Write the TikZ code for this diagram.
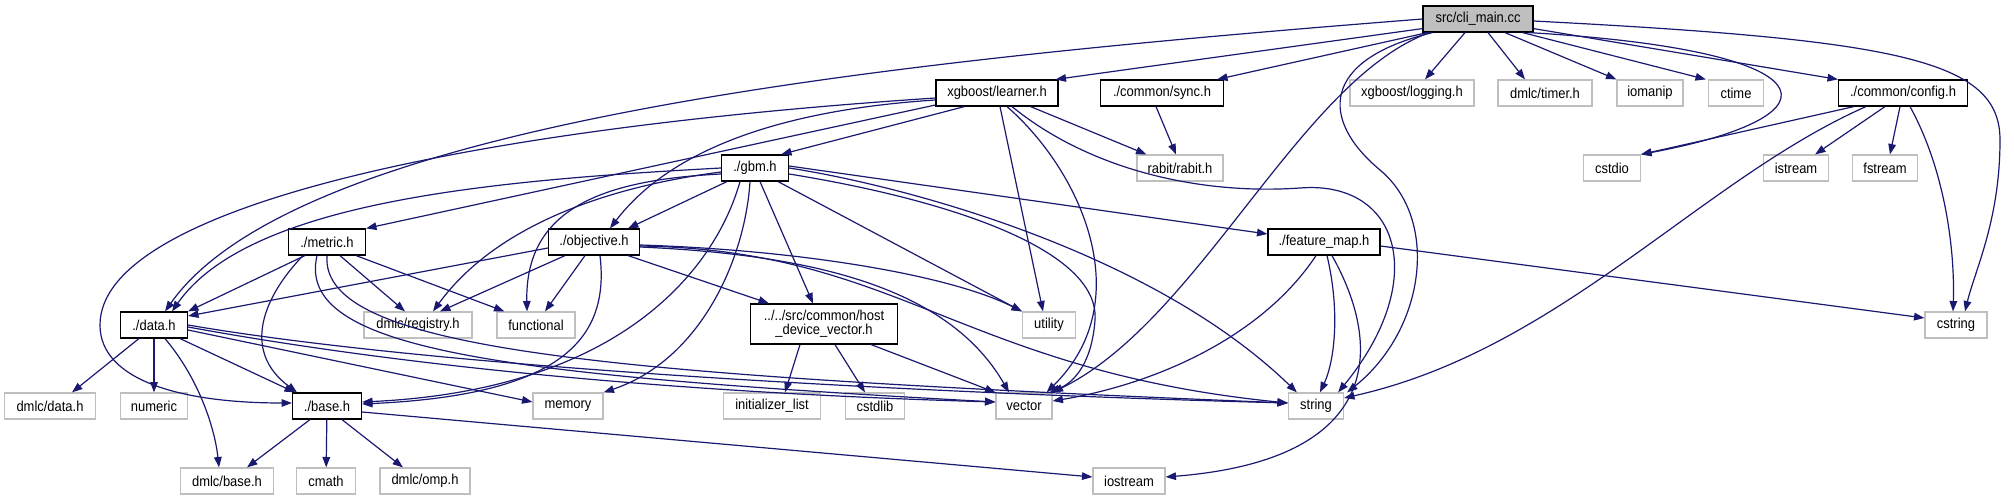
\documentclass[tikz,border=0pt]{standalone}
\usepackage{fontspec}
\setmainfont{Liberation Sans}[FakeStretch=0.9]
\usepackage{xcolor}
\usepackage{tikz}
\usetikzlibrary{arrows.meta, calc}

\definecolor{edgeblue}{HTML}{191970}
\definecolor{boxgray}{HTML}{BFBFBF}

\begin{document}
\begin{tikzpicture}[
  x=0.5pt, y=0.5pt,
  font=\fontsize{7.2pt}{7pt}\selectfont,
  >={Triangle[length=5.2pt, width=3.8pt]},
  hdr/.style={
    draw=black, line width=0.6pt, fill=white,
    inner sep=0pt, minimum height=13pt, align=center
  },
  sys/.style={
    draw=boxgray, line width=0.6pt, fill=white,
    inner sep=0pt, minimum height=13pt
  },
  dep/.style={->, color=edgeblue, line width=0.6pt}
]
\useasboundingbox (0,0) rectangle (2014,500);

% rank 0
\node[hdr, fill=boxgray, minimum width=55pt] (cli) at (1478,481) {src/cli\_main.cc};

% rank 1
\node[hdr, minimum width=61pt]   (learner) at (997,407)  {xgboost/learner.h};
\node[hdr, minimum width=61.5pt] (sync)    at (1162,407) {./common/sync.h};
\node[sys, minimum width=62pt]   (logging) at (1412,407) {xgboost/logging.h};
\node[sys, minimum width=47pt]   (timer)   at (1545,407) {dmlc/timer.h};
\node[sys, minimum width=33pt]   (iomanip) at (1650,407) {iomanip};
\node[sys, minimum width=27.5pt] (ctime)   at (1736,407) {ctime};
\node[hdr, minimum width=64.5pt] (config)  at (1903,407) {./common/config.h};

% rank 2
\node[hdr, minimum width=33.5pt] (gbm)     at (755,332)  {./gbm.h};
\node[sys, minimum width=43pt]   (rabit)   at (1180,332) {rabit/rabit.h};
\node[sys, minimum width=28.5pt] (cstdio)  at (1612,332) {cstdio};
\node[sys, minimum width=32.5pt] (istream) at (1796,332) {istream};
\node[sys, minimum width=32.5pt] (fstream) at (1885,332) {fstream};

% rank 3
\node[hdr, minimum width=38.5pt] (metric)    at (327,258)  {./metric.h};
\node[hdr, minimum width=45.5pt] (objective) at (594,258)  {./objective.h};
\node[hdr, minimum width=56pt]   (featmap)   at (1324,258) {./feature\_map.h};

% rank 4
\node[hdr, minimum width=33.5pt] (data)       at (154,175)  {./data.h};
\node[sys, minimum width=54pt]   (registry)   at (418,175)  {dmlc/registry.h};
\node[sys, minimum width=39pt]   (functional) at (536,175)  {functional};
\node[hdr, minimum width=73.5pt, minimum height=20pt] (hostdev) at (824,176)
  {../../src/common/host\\\_device\_vector.h};
\node[sys, minimum width=26.5pt] (utility)    at (1049,175) {utility};
\node[sys, minimum width=31pt]   (cstring)    at (1956,175) {cstring};

% rank 5
\node[sys, minimum width=45.5pt] (dmlcdata) at (50,94)   {dmlc/data.h};
\node[sys, minimum width=33.5pt] (numeric)  at (154,94)  {numeric};
\node[hdr, minimum width=34.5pt] (base)     at (327,94)  {./base.h};
\node[sys, minimum width=35pt]   (memory)   at (568,94)  {memory};
\node[sys, minimum width=48.5pt] (initlist) at (772,94)  {initializer\_list};
\node[sys, minimum width=29.5pt] (cstdlib)  at (875,94)  {cstdlib};
\node[sys, minimum width=28pt]   (vector)   at (1024,94) {vector};
\node[sys, minimum width=27.5pt] (string)   at (1316,94) {string};

% rank 6
\node[sys, minimum width=46.5pt] (dmlcbase) at (227,19)  {dmlc/base.h};
\node[sys, minimum width=29.5pt] (cmath)    at (326,19)  {cmath};
\node[sys, minimum width=45pt]   (omp)      at (425,19)  {dmlc/omp.h};
\node[sys, minimum width=36pt]   (iostream) at (1129,19) {iostream};

% src/cli_main.cc
\draw[dep] ($(cli.south west)+(0,4)$) -- ($(learner.north east)+(-3,0)$);
\draw[dep] ($(cli.south west)+(5,0)$) -- ($(sync.north east)+(-7,0)$);
\draw[dep] ($(cli.south)+(-13,0)$) -- ($(logging.north)+(13,0)$);
\draw[dep] ($(cli.south)+(10,0)$) -- ($(timer.north)+(-20,0)$);
\draw[dep] ($(cli.south)+(27,0)$) -- (iomanip.north west);
\draw[dep] ($(cli.south east)+(-11,0)$) -- ($(ctime.north west)+(-2,0)$);
\draw[dep] ($(cli.south east)+(0,4)$) -- (config.north west);
\draw[dep] ($(cli.south east)+(-5,0)$) .. controls (1830,450) and (1850,385) .. (cstdio.north east);
\draw[dep] ($(cli.east)+(0,-2)$) .. controls (1900,460) and (2000,440) .. (2000,360)
  .. controls (2000,280) and (1975,230) .. ($(cstring.north)+(9,0)$);
\draw[dep] ($(cli.south west)+(7,0)$) .. controls (1300,420) and (1200,180) .. (vector.north east);
\draw[dep] ($(cli.south west)+(10,0)$) .. controls (1320,440) and (1320,380) .. (1380,330)
  .. controls (1440,280) and (1425,170) .. ($(string.north east)+(3,0)$);
\draw[dep] (cli.west) .. controls (900,440) and (300,380) .. ($(data.north)+(11,0)$);

% xgboost/learner.h
\draw[dep] ($(learner.south west)+(29,0)$) -- ($(gbm.north east)+(-8,0)$);
\draw[dep] ($(learner.south east)+(-28,0)$) -- ($(rabit.north west)+(10,0)$);
\draw[dep] ($(learner.south)+(3,0)$) -- ($(utility.north)+(-6,0)$);
\draw[dep] ($(learner.south)+(10,0)$) .. controls (1080,330) and (1140,200) .. ($(vector.north east)+(-6,0)$);
\draw[dep] ($(learner.south)+(15,0)$) .. controls (1090,330) and (1200,305) .. (1300,312)
  .. controls (1400,320) and (1430,220) .. ($(string.north east)+(-6,0)$);
\draw[dep] ($(learner.west)+(0,-12)$) -- (metric.north east);
\draw[dep] ($(learner.west)+(0,-7)$) .. controls (780,390) and (670,350) .. ($(objective.north)+(16,0)$);
\draw[dep] ($(learner.west)+(0,-5)$) .. controls (450,370) and (100,290) .. (100,175)
  .. controls (100,120) and (180,97) .. ($(base.west)+(0,3)$);

% ./gbm.h
\draw[dep] (gbm.west) .. controls (500,320) and (250,300) .. ($(data.north)+(18,0)$);
\draw[dep] ($(gbm.south west)+(6,0)$) -- ($(objective.north)+(34,0)$);
\draw[dep] ($(gbm.west)+(0,-4)$) .. controls (620,315) and (500,280) .. ($(registry.north)+(15,0)$);
\draw[dep] ($(gbm.west)+(0,-6)$) .. controls (600,320) and (525,290) .. ($(functional.north)+(-9,0)$);
\draw[dep] ($(gbm.south)+(-15,0)$) .. controls (715,230) and (620,110) .. ($(base.east)+(0,4)$);
\draw[dep] ($(gbm.south)+(-5,0)$) .. controls (745,240) and (700,140) .. (memory.north east);
\draw[dep] ($(gbm.south)+(5,0)$) -- ($(hostdev.north)+(-11,0)$);
\draw[dep] ($(gbm.south east)+(-11,0)$) -- (utility.north west);
\draw[dep] ($(gbm.east)+(0,-6)$) .. controls (950,300) and (1100,250) .. (1095,180)
  .. controls (1092,138) and (1075,118) .. ($(vector.north east)+(-3,0)$);
\draw[dep] (gbm.east) .. controls (900,315) and (1150,250) .. ($(string.north west)+(9,0)$);
\draw[dep] ($(gbm.east)+(0,2)$) -- ($(featmap.west)+(0,8)$);

% ./metric.h
\draw[dep] ($(metric.south west)+(17,0)$) -- (data.north east);
\draw[dep] ($(metric.south)+(-24,0)$) .. controls (265,205) and (240,150) .. ($(base.north)+(-30,0)$);
\draw[dep] ($(metric.south)+(-10,0)$) .. controls (295,150) and (500,125) .. ($(vector.west)+(0,4)$);
\draw[dep] (metric.south) .. controls (320,150) and (600,125) .. ($(string.west)+(0,3)$);
\draw[dep] ($(metric.south)+(13,0)$) -- ($(registry.north)+(-13,0)$);
\draw[dep] ($(metric.south east)+(-10,0)$) -- ($(functional.north west)+(8,0)$);

% ./objective.h
\draw[dep] ($(objective.west)+(0,-6)$) -- ($(data.east)+(0,9)$);
\draw[dep] ($(objective.south)+(-29,0)$) -- ($(registry.north)+(22,0)$);
\draw[dep] ($(objective.south)+(-9,0)$) -- ($(functional.north)+(9,0)$);
\draw[dep] ($(objective.south)+(6,0)$) .. controls (610,160) and (560,105) .. ($(base.east)+(0,2)$);
\draw[dep] ($(objective.south east)+(-12,0)$) -- ($(hostdev.north west)+(19,0)$);
\draw[dep] ($(objective.east)+(0,-3)$) .. controls (800,250) and (950,225) .. (utility.north west);
\draw[dep] ($(objective.east)+(0,-5)$) .. controls (820,245) and (950,210) .. ($(vector.north)+(-15,0)$);
\draw[dep] ($(objective.east)+(0,-4)$) .. controls (900,250) and (960,130) .. ($(string.west)+(0,3)$);

% ./data.h
\draw[dep] ($(data.south west)+(19,0)$) -- ($(dmlcdata.north)+(22,0)$);
\draw[dep] (data) -- (numeric);
\draw[dep] ($(data.south)+(11,0)$) .. controls (200,120) and (215,70) .. ($(dmlcbase.north)+(-8,0)$);
\draw[dep] ($(data.south east)+(-8,0)$) -- ($(base.north west)+(3,0)$);
\draw[dep] ($(data.east)+(0,-5)$) -- ($(memory.west)+(0,4)$);
\draw[dep] ($(data.east)+(0,-2)$) .. controls (450,125) and (750,105) .. ($(vector.west)+(0,4)$);
\draw[dep] (data.east) .. controls (450,130) and (950,106) .. ($(string.west)+(0,3)$);

% host_device_vector.h
\draw[dep] ($(hostdev.south)+(-24,0)$) -- ($(initlist.north)+(13,0)$);
\draw[dep] ($(hostdev.south)+(11,0)$) -- ($(cstdlib.north)+(-10,0)$);
\draw[dep] ($(hostdev.south east)+(-27,0)$) -- (vector.north west);

% ./base.h
\draw[dep] ($(base.south)+(-17,0)$) -- ($(dmlcbase.north)+(20,0)$);
\draw[dep] (base) -- (cmath);
\draw[dep] ($(base.south)+(15,0)$) -- ($(omp.north)+(-22,0)$);
\draw[dep] ($(base.east)+(0,-6)$) -- ($(iostream.west)+(0,4)$);

% ./feature_map.h
\draw[dep] ($(featmap.south)+(-8,0)$) .. controls (1260,160) and (1150,115) .. ($(vector.east)+(0,5)$);
\draw[dep] ($(featmap.south)+(3,0)$) .. controls (1340,190) and (1335,140) .. ($(string.north)+(4,0)$);
\draw[dep] ($(featmap.south)+(8,0)$) .. controls (1385,150) and (1380,40) .. ($(iostream.east)+(0,4)$);
\draw[dep] ($(featmap.east)+(0,-4)$) -- ($(cstring.west)+(0,7)$);

% ./common/config.h and ./common/sync.h
\draw[dep] ($(config.south west)+(16,0)$) -- (cstdio.north east);
\draw[dep] ($(config.south west)+(28,0)$) .. controls (1700,320) and (1560,150) .. ($(string.east)+(0,8)$);
\draw[dep] ($(config.south)+(-18,0)$) -- ($(istream.north east)+(-14,0)$);
\draw[dep] ($(config.south)+(-3,0)$) -- ($(fstream.north)+(5,0)$);
\draw[dep] ($(config.south)+(7,0)$) .. controls (1945,330) and (1955,250) .. ($(cstring.north)+(-3,0)$);
\draw[dep] ($(sync.south)+(-6,0)$) -- ($(rabit.north)+(-4,0)$);

\end{tikzpicture}
\end{document}
